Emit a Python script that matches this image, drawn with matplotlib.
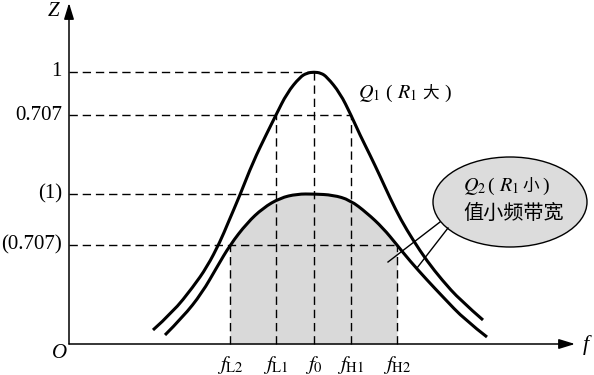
"""串联谐振曲线示意图 (matplotlib)."""
import matplotlib.pyplot as plt
from matplotlib.patches import Ellipse, PathPatch
from matplotlib.path import Path
import numpy as np

plt.rcParams["font.family"] = ["Liberation Serif", "Noto Sans CJK SC"]
plt.rcParams["mathtext.fontset"] = "stix"

# 纵轴刻度 (示意图, 非等比例)
z_pos = [272, 229, 150, 99]
z_labels = ["1", "0.707", "(1)", "(0.707)"]

# 横轴频率刻度
f_pos = [161, 207, 245, 282, 328]
f_labels = [r"$f_{\rm L2}$", r"$f_{\rm L1}$", r"$f_0$", r"$f_{\rm H1}$", r"$f_{\rm H2}$"]

# Q1 曲线 (R1 大)
q1_x = [84, 104, 124, 138, 151, 159, 171, 184, 198, 207, 218, 231, 238, 245, 252, 258,
        271, 282, 291, 301, 311, 321, 332, 344, 358, 373, 391, 414]
q1_y = [14, 32, 57, 77, 102, 121, 149, 182, 211, 229, 251, 267, 271, 272, 271, 267,
        251, 229, 209, 189, 168, 146, 124, 104, 83, 64, 44, 24]

# Q2 曲线 (R1 小)
q2_x = [96, 114, 133, 148, 161, 178, 194, 211, 228, 245, 264, 281, 298, 314, 328,
        341, 358, 374, 396, 418]
q2_y = [9, 27, 51, 77, 99, 121, 136, 146, 150, 150, 149, 144, 131, 116, 99,
        83, 64, 47, 24, 7]

# 标注框引线
lead_a = ([371, 319], [122, 82])
lead_b = ([379, 348], [116, 76])


def smooth_path(xs, ys):
    """折线顶点作控制点, 用二次贝塞尔曲线连接 (经过各段中点)."""
    pts = np.column_stack([xs, ys]).astype(float)
    verts = [pts[0]]
    codes = [Path.MOVETO]
    for i in range(1, len(pts) - 1):
        end = pts[i + 1] if i == len(pts) - 2 else (pts[i] + pts[i + 1]) / 2
        verts += [pts[i], end]
        codes += [Path.CURVE3, Path.CURVE3]
    return Path(verts, codes)


fig = plt.figure(figsize=(5.94, 3.75), dpi=100)
ax = fig.add_axes([0, 0, 1, 1])
ax.set_xlim(-69, 525)
ax.set_ylim(-31, 344)
ax.axis("off")

q2x = np.array(q2_x)
q2y = np.array(q2_y)
band = (q2x >= f_pos[0]) & (q2x <= f_pos[-1])
ax.fill_between(q2x[band], q2y[band], 0, color="#d9d9d9", lw=0, zorder=1)

dash = dict(color="black", lw=1.0, dashes=(6, 3.5), zorder=2)
# 水平虚线
ax.plot([0, f_pos[2]], [z_pos[0]] * 2, **dash)
ax.plot([0, f_pos[3]], [z_pos[1]] * 2, **dash)
ax.plot([0, f_pos[1]], [z_pos[2]] * 2, **dash)
ax.plot([0, f_pos[4]], [z_pos[3]] * 2, **dash)
# 垂直虚线
ax.plot([f_pos[2]] * 2, [0, z_pos[0]], **dash)
ax.plot([f_pos[1]] * 2, [0, z_pos[1]], **dash)
ax.plot([f_pos[3]] * 2, [0, z_pos[1]], **dash)
ax.plot([f_pos[0]] * 2, [0, z_pos[3]], **dash)
ax.plot([f_pos[4]] * 2, [0, z_pos[3]], **dash)

for xs, ys in [(q1_x, q1_y), (q2_x, q2_y)]:
    ax.add_patch(PathPatch(smooth_path(xs, ys), fc="none", ec="black", lw=2.2,
                           capstyle="butt", zorder=4))

# 坐标轴
arrow = dict(arrowstyle="-|>,head_length=0.65,head_width=0.2", lw=1.1, color="black",
             shrinkA=0, shrinkB=0, mutation_scale=15)
ax.annotate("", xy=(0, 341), xytext=(0, 0), arrowprops=arrow, zorder=5)
ax.annotate("", xy=(506, 0), xytext=(0, 0), arrowprops=arrow, zorder=5)
ax.text(-15, 333, "Z", style="italic", fontsize=15, ha="center", va="center")
ax.text(-9, -9, "O", style="italic", fontsize=15, ha="center", va="center")
ax.text(517, -1, "f", style="italic", fontsize=16, ha="center", va="center")

for y, lab in zip(z_pos, z_labels):
    ax.text(-7, y, lab, fontsize=15, ha="right", va="center")
for x, lab in zip(f_pos, f_labels):
    ax.text(x, -21, lab, fontsize=15, ha="center", va="center")

# Q1 标注
base1 = 246
ax.text(289, base1, r"$Q_1$", fontsize=14.5, ha="left", va="baseline")
ax.text(319, base1, "(", fontsize=14, ha="center", va="baseline")
ax.text(328, base1, r"$R_1$", fontsize=14.5, ha="left", va="baseline")
ax.text(362, base1, "大", family="Noto Sans CJK SC", fontsize=12, ha="center", va="baseline")
ax.text(379, base1, ")", fontsize=14, ha="center", va="baseline")

# Q2 标注框
ax.add_patch(Ellipse((441, 142), 154, 90, fc="#dcdcdc", ec="black", lw=1.0, zorder=3))
ax.plot(*lead_a, color="black", lw=1.0, zorder=3)
ax.plot(*lead_b, color="black", lw=1.0, zorder=3)
base2 = 153
ax.text(394, base2, r"$Q_2$", fontsize=14.5, ha="left", va="baseline", zorder=6)
ax.text(421, base2, "(", fontsize=14, ha="center", va="baseline", zorder=6)
ax.text(430, base2, r"$R_1$", fontsize=14.5, ha="left", va="baseline", zorder=6)
ax.text(462, base2, "小", family="Noto Sans CJK SC", fontsize=12, ha="center",
        va="baseline", zorder=6)
ax.text(477, base2, ")", fontsize=14, ha="center", va="baseline", zorder=6)
ax.text(445, 131, "值小频带宽", family="Noto Sans CJK SC", fontsize=14.5, ha="center",
        va="center", zorder=6)

fig.savefig("out.png", dpi=100)
